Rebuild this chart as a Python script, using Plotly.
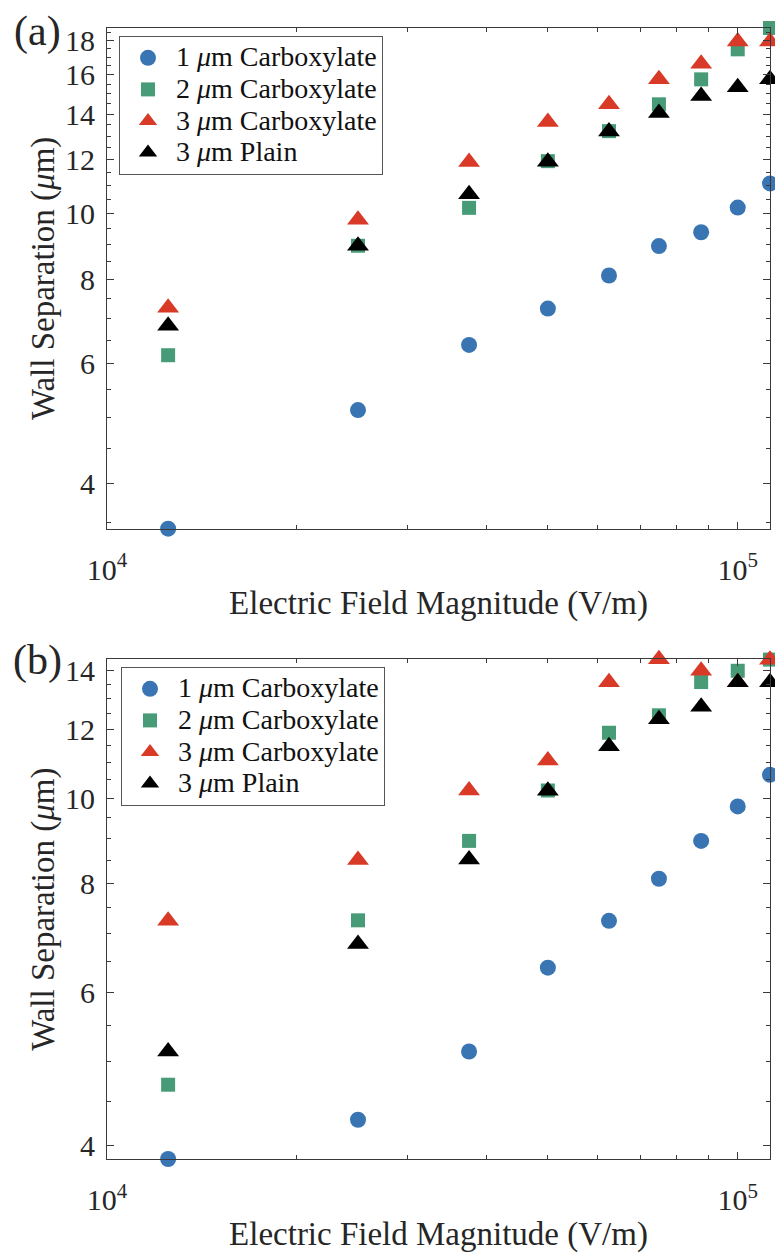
import math
import plotly.graph_objects as go

# ---------------- data ----------------
field = [12500, 25000, 37500, 50000, 62500, 75000, 87500, 100000, 112500]

series_names = ["1 <i>\u03bc</i>m Carboxylate", "2 <i>\u03bc</i>m Carboxylate",
                "3 <i>\u03bc</i>m Carboxylate", "3 <i>\u03bc</i>m Plain"]

# panel (a)
a_1um_carb = [3.43, 5.13, 6.40, 7.24, 8.10, 8.95, 9.38, 10.20, 11.07]
a_2um_carb = [6.18, 8.96, 10.19, 11.94, 13.22, 14.48, 15.76, 17.45, 18.76]
a_3um_carb = [7.26, 9.79, 11.91, 13.64, 14.48, 15.76, 16.61, 17.92, 17.92]
a_3um_plain = [6.83, 8.96, 10.67, 11.92, 13.20, 14.06, 14.90, 15.34, 15.76]

# panel (b)
b_1um_carb = [3.864, 4.285, 5.13, 6.40, 7.24, 8.09, 8.94, 9.79, 10.64]
b_2um_carb = [4.70, 7.25, 8.94, 10.21, 11.89, 12.45, 13.59, 14.00, 14.42]
b_3um_carb = [7.24, 8.50, 10.21, 11.05, 13.58, 14.43, 14.00, 13.58, 14.41]
b_3um_plain = [5.13, 6.81, 8.51, 10.20, 11.47, 12.32, 12.73, 13.58, 13.58]

x_major = [1e4, 1e5]
x_major_text = ["10<sup>4</sup>", "10<sup>5</sup>"]
x_minor = [2e4, 3e4, 4e4, 5e4, 6e4, 7e4, 8e4, 9e4]
a_y_major = [4, 6, 8, 10, 12, 14, 16, 18]
b_y_major = [4, 6, 8, 10, 12, 14]

# ---------------- style ----------------
colors = ["#3a75b3", "#479c77", "#d83a27", "#000000"]
symbols = ["circle", "square", "triangle-up", "triangle-up"]
sizes = [16, 14, 19, 19]
FONT = "Liberation Serif, Times New Roman, serif"
TXT = "#262626"
AX = "#3a3a3a"
EPS = 1e-5  # tiny pad so edge markers are not culled

fig = go.Figure()

panels = [
    ("x", "y", "legend", [a_1um_carb, a_2um_carb, a_3um_carb, a_3um_plain]),
    ("x2", "y2", "legend2", [b_1um_carb, b_2um_carb, b_3um_carb, b_3um_plain]),
]
for xa, ya, lg, sets in panels:
    for name, vals, c, s, sz in zip(series_names, sets, colors, symbols, sizes):
        fig.add_trace(go.Scatter(
            x=field, y=vals, mode="markers",
            name='<span style="font-size:28px">' + name + "</span>",
            marker=dict(symbol=s, size=sz, color=c, line=dict(width=0)),
            xaxis=xa, yaxis=ya, legend=lg, cliponaxis=False,
        ))


def y_minor(lo, hi, majors):
    vals = []
    k = 1
    while k * 0.5 <= hi:
        v = k * 0.5
        if v >= lo and v not in majors:
            vals.append(v)
        k += 1
    return vals


def xaxis_cfg(domain_anchor):
    return dict(
        type="log", range=[4, math.log10(max(field)) + EPS], anchor=domain_anchor,
        tickvals=x_major, ticktext=x_major_text, ticks="inside", ticklen=7,
        tickwidth=1, tickcolor=AX, showline=True, linecolor=AX, linewidth=1.2,
        mirror="allticks", showgrid=False, zeroline=False,
        minor=dict(tickvals=x_minor, ticks="inside", ticklen=4, tickcolor=AX,
                   tickwidth=1, showgrid=False),
        tickfont=dict(family=FONT, size=30, color=TXT), ticklabelstandoff=14,
        title=dict(text="Electric Field Magnitude (V/m)",
                   font=dict(family=FONT, size=33, color=TXT), standoff=6),
        automargin=False,
    )


def yaxis_cfg(sets, majors, domain, anchor):
    lo = min(min(s) for s in sets)
    hi = max(max(s) for s in sets)
    return dict(
        type="log", range=[math.log10(lo) - EPS, math.log10(hi) + EPS], domain=domain,
        anchor=anchor, tickvals=majors, ticktext=[str(v) for v in majors],
        ticks="inside", ticklen=7, tickwidth=1, tickcolor=AX, showline=True,
        linecolor=AX, linewidth=1.2, mirror="allticks", showgrid=False,
        zeroline=False,
        minor=dict(tickvals=y_minor(lo, hi, majors), ticks="inside", ticklen=4,
                   tickcolor=AX, tickwidth=1, showgrid=False),
        tickfont=dict(family=FONT, size=30, color=TXT), ticklabelstandoff=5,
        title=dict(text="Wall Separation (<i>\u03bc</i>m)",
                   font=dict(family=FONT, size=33, color=TXT), standoff=0),
        automargin=False,
    )


W, H = 775, 1258
ML, MR, MT, MB = 107, 5, 28, 99
PH = H - MT - MB
dom_a = [(H - MB - 528.7) / PH, 1.0]
dom_b = [0.0, (H - MB - 659.3) / PH]

legend_style = dict(
    font=dict(family=FONT, size=22, color="#111111"), bgcolor="white",
    bordercolor="#555555", borderwidth=1, itemwidth=46, xanchor="left",
    yanchor="top", tracegroupgap=0,
)

fig.update_layout(
    width=W, height=H, margin=dict(l=ML, r=MR, t=MT, b=MB),
    paper_bgcolor="white", plot_bgcolor="white",
    xaxis=xaxis_cfg("y"),
    yaxis=yaxis_cfg(panels[0][3], a_y_major, dom_a, "x"),
    xaxis2=xaxis_cfg("y2"),
    yaxis2=yaxis_cfg(panels[1][3], b_y_major, dom_b, "x2"),
    legend=dict(x=(119 - ML) / (W - ML - MR), y=(H - MB - 36) / PH, **legend_style),
    legend2=dict(x=(121 - ML) / (W - ML - MR), y=(H - MB - 667) / PH, **legend_style),
    showlegend=True,
    annotations=[
        dict(text="(a)", xref="paper", yref="paper",
             x=(37 - ML) / (W - ML - MR), y=(H - MB - 31) / PH,
             xanchor="center", yanchor="middle", showarrow=False,
             font=dict(family=FONT, size=42, color=TXT)),
        dict(text="(b)", xref="paper", yref="paper",
             x=(37 - ML) / (W - ML - MR), y=(H - MB - 660) / PH,
             xanchor="center", yanchor="middle", showarrow=False,
             font=dict(family=FONT, size=42, color=TXT)),
    ],
)

fig.write_html("out.html", config={"displayModeBar": False},
               post_script="document.body.style.margin='0';")
